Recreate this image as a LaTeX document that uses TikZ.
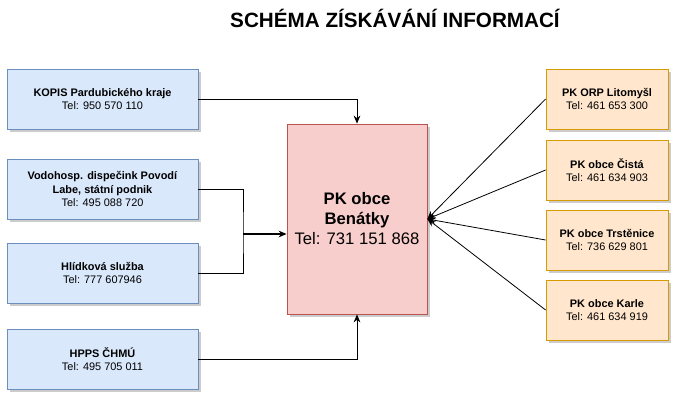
\documentclass[tikz,border=0pt]{standalone}
\usepackage{fontspec}
\setmainfont{Liberation Sans}
\usetikzlibrary{arrows.meta,shadows}
\definecolor{bfill}{HTML}{DAE8FC}\definecolor{bline}{HTML}{6C8EBF}
\definecolor{ofill}{HTML}{FFE6CC}\definecolor{oline}{HTML}{D79B00}
\definecolor{rfill}{HTML}{F8CECC}\definecolor{rline}{HTML}{B85450}
\begin{document}
\begin{tikzpicture}[x=0.75pt,y=-0.75pt,
  shd/.style={drop shadow={shadow xshift=2pt,shadow yshift=-2pt,fill=gray!40,opacity=1}},
  bx/.style={draw=bline,fill=bfill,line width=0.6pt,shd,align=center,font=\fontsize{8.2}{10}\selectfont,minimum width=143.25pt,minimum height=45pt,inner sep=1pt},
  rb/.style={draw=oline,fill=ofill,line width=0.6pt,shd,align=center,font=\fontsize{8.2}{10}\selectfont,minimum width=91.5pt,minimum height=45pt,inner sep=1pt},
  ar/.style={-{Stealth[length=6pt,width=5pt]},line width=0.6pt}]
\useasboundingbox (0,0) rectangle (678,401);
\node[font=\bfseries\fontsize{15.5}{18}\selectfont] (t) at (395,18) {SCHÉMA ZÍSKÁVÁNÍ INFORMACÍ};
\node[draw=rline,fill=rfill,line width=0.6pt,shd,minimum width=105pt,minimum height=142.5pt,align=center,font=\fontsize{12.5}{15}\selectfont] (c) at (357,219) {\textbf{PK obce}\\\textbf{Benátky}\\Tel: 731 151 868};
\node[bx] (a) at (102.5,99) {\textbf{KOPIS Pardubického kraje}\\Tel: 950 570 110};
\node[bx] (b) at (102.5,189) {\textbf{Vodohosp. dispečink Povodí}\\\textbf{Labe, státní podnik}\\Tel: 495 088 720};
\node[bx] (d) at (102.5,273) {\textbf{Hlídková služba}\\Tel: 777 607946};
\node[bx] (e) at (102.5,359) {\textbf{HPPS ČHMÚ}\\Tel: 495 705 011};
\node[rb] (r1) at (607,99) {\textbf{PK ORP Litomyšl}\\Tel: 461 653 300};
\node[rb] (r2) at (607,170) {\textbf{PK obce Čistá}\\Tel: 461 634 903};
\node[rb] (r3) at (607,240) {\textbf{PK obce Trstěnice}\\Tel: 736 629 801};
\node[rb] (r4) at (607,310) {\textbf{PK obce Karle}\\Tel: 461 634 919};
\coordinate (m) at (243,234);
\draw[ar] (a.east) -| (c.north);
\draw[ar] (e.east) -| (c.south);
\draw[line width=0.6pt] (b.east) -| (m) |- (d.east);
\draw[ar,line width=1pt] (m) -- (m -| c.west);
\foreach \r in {r1,r2,r3,r4} \draw[ar] (\r.west) -- (c.east);
\end{tikzpicture}
\end{document}
